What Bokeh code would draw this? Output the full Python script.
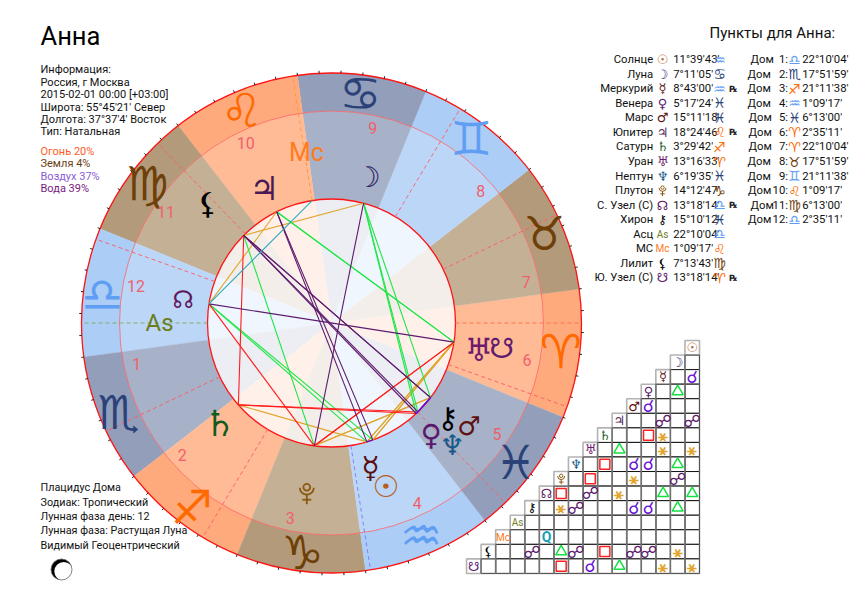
import math
from bokeh.plotting import figure
from bokeh.models import Range1d
from bokeh.core.properties import value
from bokeh.embed import file_html
from bokeh.resources import INLINE

# ---------- data ----------
title = "Анна"
info_lines = ["Информация:", "Россия, г Москва", "2015-02-01 00:00 [+03:00]",
              "Широта: 55°45'21' Север", "Долгота: 37°37'4' Восток", "Тип: Натальная"]
element_lines = ["Огонь 20%", "Земля 4%", "Воздух 37%", "Вода 39%"]
footer_lines = ["Плацидус Дома", "Зодиак: Тропический", "Лунная фаза день: 12",
                "Лунная фаза: Растущая Луна", "Видимый Геоцентрический"]
table_title = "Пункты для Анна:"

zodiac = ["♈", "♉", "♊", "♋", "♌", "♍", "♎", "♏", "♐", "♑", "♒", "♓"]
zodiac_element = [0, 1, 2, 3, 0, 1, 2, 3, 0, 1, 2, 3]

planet_names = ["Солнце", "Луна", "Меркурий", "Венера", "Марс", "Юпитер", "Сатурн", "Уран",
                "Нептун", "Плутон", "С. Узел (С)", "Хирон", "Асц", "МС", "Лилит", "Ю. Узел (С)"]
planet_glyphs = ["☉", "☽", "☿", "♀", "♂", "♃", "♄", "♅", "♆", "", "☊", "⚷", "As", "Mc", "⚸", "☋"]
planet_deg = ["11°39'43'", "7°11'05'", "8°43'00'", "5°17'24'", "15°11'18'", "18°24'46'",
              "3°29'42'", "13°16'33'", "6°19'35'", "14°12'47'", "13°18'14'", "15°10'12'",
              "22°10'04'", "1°09'17'", "7°13'43'", "13°18'14'"]
planet_sign = [10, 3, 10, 11, 11, 4, 8, 0, 11, 9, 6, 11, 6, 4, 5, 0]
planet_retro = [0, 0, 1, 0, 0, 1, 0, 0, 0, 0, 1, 0, 0, 0, 0, 1]

house_deg = ["22°10'04'", "17°51'59'", "21°11'38'", "1°09'17'", "6°13'00'", "2°35'11'",
             "22°10'04'", "17°51'59'", "21°11'38'", "1°09'17'", "6°13'00'", "2°35'11'"]
house_sign = [6, 7, 8, 10, 11, 0, 0, 1, 2, 4, 5, 6]

# aspects: (row planet, column planet)
conj_a, conj_b = [2, 4, 8, 8, 11, 11, 15], [0, 3, 4, 3, 4, 3, 7]
opp_a, opp_b = [5, 5, 9, 10, 11, 14, 14, 14, 14], [2, 0, 1, 7, 8, 11, 8, 4, 3]
tri_a, tri_b = [3, 7, 8, 10, 10, 11, 14, 15], [1, 5, 1, 2, 0, 1, 9, 5]
squ_a, squ_b = [6, 8, 9, 10, 14, 15], [3, 6, 7, 9, 6, 9]
sex_a, sex_b = [6, 7, 7, 9, 10, 11, 14, 15, 15], [2, 2, 0, 4, 5, 9, 1, 2, 0]
qui_a, qui_b = [13], [10]

# ---------- layout and style ----------
CX, CY = 331.0, 322.5
R_OUT, R_MID, R_IN = 250.0, 212.0, 124.0
R_SIGN, R_HOUSE, R_TICK = 231.0, 199.0, 252.5
GLYPH_R = [150.0, 172.0]
glyph_ring = [1, 0, 0, 0, 1, 0, 0, 0, 1, 1, 0, 0, 1, 1, 1, 1]
glyph_nudge = [-1.1, 0.9, -1.5, -1.5, 0, 0.4, 0.5, -1.6, 0.3, -0.3, 0.2, -2.2, 0, -0.6, 0.9, 0.3]
glyph_size = [30, 28, 30, 29, 26, 33, 36, 32, 28, 24, 24, 29, 24, 25, 30, 28]

OUTER_COL = ["#ffaa7d", "#b29a7a", "#accdf6", "#929eba"]
MIDDLE_COL = ["#ffba96", "#c4b094", "#bcd6f7", "#a7b1c8"]
INNER_COL = ["#fff1e9", "#f3eee9", "#f0f6fd", "#eceef3"]
SIGN_COL = ["#ff6a00", "#6e3f08", "#5f9ef2", "#2b4279"]
PLANET_COL = ["#b5601c", "#2c1a63", "#5a0f12", "#591a6e", "#5e1010", "#4a1a55", "#145a1e", "#6e1a6e",
              "#155a8a", "#8a5a12", "#5e1a5e", "#000000", "#6d7d1e", "#ff7a1a", "#000000", "#5e1a6e"]
CUSP_COL = ["#82aa5a", "#ff5a64", "#ff5a64", "#8278f0", "#ff5a64", "#ff5a64",
            "#ff6e46", "#ff5a64", "#ff5a64", "#ff963c", "#ff5a64", "#ff5a64"]
FONT = value("Roboto")
SYM = value("DejaVu Sans")
CELL, GRID_R, GRID_T = 14.56, 699.0, 340.0


def lon(deg, sign):
    d, m, s = deg.rstrip("'").replace("°", "'").split("'")
    return sign * 30 + int(d) + int(m) / 60 + int(s) / 3600


ASC = lon(house_deg[0], house_sign[0])
ang = lambda L: 180 + L - ASC
Y = lambda py: 601 - py
px = lambda a, r: CX + r * math.cos(math.radians(a))
py = lambda a, r: Y(CY) + r * math.sin(math.radians(a))

planet_lon = [lon(d, s) for d, s in zip(planet_deg, planet_sign)]
house_lon = [lon(d, s) for d, s in zip(house_deg, house_sign)]

p = figure(width=855, height=593, output_backend="svg", toolbar_location=None,
           x_range=Range1d(0, 855), y_range=Range1d(8, 601), min_border=0,
           outline_line_color=None, background_fill_color="white", border_fill_color="white")
p.axis.visible = False
p.grid.visible = False


def txt(xs, ys, ts, size, color, align="center", font=FONT, style="normal"):
    p.text(x=xs, y=ys, text=ts, text_font=font, text_font_size=f"{size}px", text_color=color,
           text_align=align, text_baseline="middle", text_font_style=style)


def pluto(x, y, s, color, lw):
    p.circle([x], [y + 6 * s], radius=3.4 * s, fill_color=None, line_color=color, line_width=lw)
    p.arc([x], [y + 5.5 * s], radius=7 * s, start_angle=math.pi, end_angle=2 * math.pi,
          line_color=color, line_width=lw)
    p.line([x, x], [y - 1.5 * s, y - 11 * s], line_color=color, line_width=lw)
    p.line([x - 4.5 * s, x + 4.5 * s], [y - 6.5 * s, y - 6.5 * s], line_color=color, line_width=lw)


# wedges
for i in range(12):
    a0, a1 = math.radians(ang(i * 30)), math.radians(ang(i * 30 + 30))
    e = zodiac_element[i]
    p.annular_wedge([CX], [Y(CY)], inner_radius=R_MID, outer_radius=R_OUT, start_angle=a0, end_angle=a1,
                    fill_color=OUTER_COL[e], line_color=OUTER_COL[e], line_width=0.3)
    p.annular_wedge([CX], [Y(CY)], inner_radius=R_IN, outer_radius=R_MID, start_angle=a0, end_angle=a1,
                    fill_color=MIDDLE_COL[e], line_color=MIDDLE_COL[e], line_width=0.3)
    p.wedge([CX], [Y(CY)], radius=R_IN, start_angle=a0, end_angle=a1,
            fill_color=INNER_COL[e], line_color=INNER_COL[e], line_width=0.3)

# circles
p.circle([CX], [Y(CY)], radius=R_MID, fill_color=None, line_color="#ff5a5a", line_alpha=0.75, line_width=1)
p.circle([CX], [Y(CY)], radius=R_OUT, fill_color=None, line_color="#ff1414", line_width=1.3)
p.circle([CX], [Y(CY)], radius=R_IN, fill_color=None, line_color="#ff1414", line_width=1.3)

# ticks
tick_lon = [k * 5 for k in range(72)]
p.segment([px(ang(L), R_OUT) for L in tick_lon], [py(ang(L), R_OUT) for L in tick_lon],
          [px(ang(L), R_TICK) for L in tick_lon], [py(ang(L), R_TICK) for L in tick_lon],
          line_color="#222222", line_width=1)

# cusps
for L, c in zip(house_lon, CUSP_COL):
    p.line([px(ang(L), R_IN), px(ang(L), R_OUT)], [py(ang(L), R_IN), py(ang(L), R_OUT)],
           line_color=c, line_width=1, line_dash=[4, 3], line_alpha=0.9)

# aspects
for a_list, b_list, col in [(sex_a, sex_b, "#e0a62e"), (tri_a, tri_b, "#1ee646"), (squ_a, squ_b, "#ff1e1e"),
                            (opp_a, opp_b, "#5e1a6e"), (conj_a, conj_b, "#6a10d8"), (qui_a, qui_b, "#2aa6ba")]:
    xa = [px(ang(planet_lon[k]), R_IN) for k in a_list]
    ya = [py(ang(planet_lon[k]), R_IN) for k in a_list]
    xb = [px(ang(planet_lon[k]), R_IN) for k in b_list]
    yb = [py(ang(planet_lon[k]), R_IN) for k in b_list]
    p.segment(xa, ya, xb, yb, line_color=col, line_width=1.1)

# zodiac glyphs
for i, g in enumerate(zodiac):
    a = ang(i * 30 + 15)
    txt([px(a, R_SIGN)], [py(a, R_SIGN)], [g], 47, SIGN_COL[zodiac_element[i]], font=SYM)

# house numbers
for i in range(12):
    L0, L1 = house_lon[i], house_lon[(i + 1) % 12]
    mid = L0 + ((L1 - L0) % 360) / 2 - 1
    txt([px(ang(mid), R_HOUSE)], [py(ang(mid), R_HOUSE)], [str(i + 1)], 16, "#f0606c")

# planet glyphs
for k, g in enumerate(planet_glyphs):
    a = ang(planet_lon[k]) + glyph_nudge[k]
    r = GLYPH_R[glyph_ring[k]]
    if g == "":
        pluto(px(a, r), py(a, r), 1.0, PLANET_COL[k], 1.8)
        continue
    is_txt = g in ("As", "Mc")
    txt([px(a, r)], [py(a, r)], [g], glyph_size[k], PLANET_COL[k], font=FONT if is_txt else SYM,
        style="bold" if g == "⚸" else "normal")

# left text
txt([40], [Y(35)], [title], 25.5, "#000000", "left")
info_y = [69, 81.5, 94, 106.5, 119, 131.3]
txt([40] * 6, [Y(v) for v in info_y], info_lines, 11, "#111111", "left")
for t, v, c in zip(element_lines, [151, 163.3, 176, 188.3], ["#ff5a1f", "#6b3e10", "#8a5cd6", "#7a1b80"]):
    txt([40], [Y(v)], [t], 11, c, "left")
foot_y = [487.3, 501.7, 516, 530.3, 545.3]
txt([40] * 5, [Y(v) for v in foot_y], footer_lines, 10.8, "#111111", "left")

# moon phase icon
p.circle([61], [Y(569)], radius=10.5, fill_color="#000000", line_color=None)
p.circle([63.2], [Y(570.8)], radius=9.4, fill_color="#ffffff", line_color=None)
p.circle([61], [Y(569)], radius=10.5, fill_color=None, line_color="#666666", line_width=0.8)

# right tables
txt([709], [Y(32.7)], [table_title], 15, "#111111", "left")
ROW0, ROW = 59.3, 14.53
TF = 11.3
for k in range(16):
    y = Y(ROW0 + k * ROW)
    txt([652.7], [y], [planet_names[k]], TF, "#111111", "right")
    small = planet_glyphs[k] in ("As", "Mc")
    if planet_glyphs[k] == "":
        pluto(662, y, 0.5, PLANET_COL[k], 1.0)
    else:
        txt([662], [y], [planet_glyphs[k]], 10 if small else 13, PLANET_COL[k], font=FONT if small else SYM)
    txt([672.7], [y], [planet_deg[k]], TF, "#111111", "left")
    txt([719], [y], [zodiac[planet_sign[k]]], 14, SIGN_COL[zodiac_element[planet_sign[k]]], font=SYM)
    if planet_retro[k]:
        txt([732.7], [y], ["℞"], 9, "#222222", font=SYM, style="bold")
dom_x = [750, 747, 747, 747, 748, 748, 748, 747, 747, 747.5, 750, 747.5]
for k in range(12):
    y = Y(ROW0 + k * ROW)
    txt([dom_x[k]], [y], ["Дом"], TF, "#111111", "left")
    txt([787.5], [y], [f"{k + 1}:"], TF, "#111111", "right")
    txt([794], [y], [zodiac[house_sign[k]]], 14, SIGN_COL[zodiac_element[house_sign[k]]], font=SYM)
    txt([801.7], [y], [house_deg[k]], TF, "#111111", "left")

# aspect grid
cell_x = lambda j: GRID_R - (j + 0.5) * CELL
cell_y = lambda i: Y(GRID_T + (i + 0.5) * CELL)
cx_list, cy_list = [], []
for i in range(16):
    for j in range(i):
        cx_list.append(cell_x(j))
        cy_list.append(cell_y(i))
p.rect(cx_list, cy_list, width=CELL, height=CELL, fill_color="white", line_color="#111111", line_width=1)
for j in range(16):
    h = (16 - j) * CELL
    p.rect([cell_x(j)], [Y(GRID_T + j * CELL + h / 2)], width=CELL, height=h, fill_color=None,
           line_color="#808080", line_width=1.6, line_alpha=0.6)
for k, g in enumerate(planet_glyphs):
    small = g in ("As", "Mc")
    if g == "":
        pluto(cell_x(k), cell_y(k), 0.5, PLANET_COL[k], 1.0)
    else:
        txt([cell_x(k)], [cell_y(k)], [g], 10 if small else 13, PLANET_COL[k], font=FONT if small else SYM)
txt([cell_x(j) for j in conj_b], [cell_y(i) for i in conj_a], ["☌"] * len(conj_a), 17, "#6a10d8", font=SYM, style="bold")
txt([cell_x(j) for j in opp_b], [cell_y(i) for i in opp_a], ["☍"] * len(opp_a), 17, "#5e1a6e", font=SYM, style="bold")
txt([cell_x(j) for j in sex_b], [cell_y(i) for i in sex_a], ["⚹"] * len(sex_a), 16, "#e0a62e", font=SYM, style="bold")
txt([cell_x(j) for j in qui_b], [cell_y(i) for i in qui_a], ["Q"] * len(qui_a), 14, "#14a0b8", style="bold")
p.scatter([cell_x(j) for j in tri_b], [cell_y(i) for i in tri_a], marker="triangle", size=11,
          fill_color=None, line_color="#14e040", line_width=1.5)
p.scatter([cell_x(j) for j in squ_b], [cell_y(i) for i in squ_a], marker="square", size=10,
          fill_color=None, line_color="#ff2020", line_width=1.5)

open("out.html", "w").write(file_html(p, INLINE))
